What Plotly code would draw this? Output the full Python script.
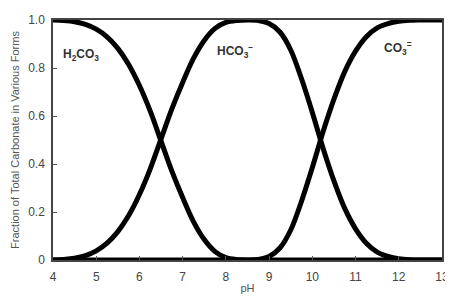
import plotly.graph_objects as go

ph = [4.0, 4.25, 4.5, 4.75, 5.0, 5.25, 5.5, 5.75, 6.0, 6.25, 6.5, 6.75, 7.0, 7.25,
      7.5, 7.75, 8.0, 8.25, 8.5, 8.75, 9.0, 9.25, 9.5, 9.75, 10.0, 10.25, 10.5,
      10.75, 11.0, 11.25, 11.5, 11.75, 12.0, 12.25, 12.5, 12.75, 13.0]

h2co3 = [1.0, 0.998, 0.993, 0.982, 0.962, 0.93, 0.882, 0.815, 0.727, 0.62, 0.495,
         0.37, 0.26, 0.16, 0.085, 0.035, 0.01, 0.002, 0.0, 0.0, 0.0, 0.0, 0.0,
         0.0, 0.0, 0.0, 0.0, 0.0, 0.0, 0.0, 0.0, 0.0, 0.0, 0.0, 0.0, 0.0, 0.0]

hco3 = [0.0, 0.002, 0.007, 0.018, 0.038, 0.07, 0.118, 0.185, 0.273, 0.38, 0.505,
        0.63, 0.74, 0.84, 0.915, 0.965, 0.99, 0.998, 1.0, 0.998, 0.985, 0.95,
        0.875, 0.755, 0.615, 0.465, 0.33, 0.215, 0.13, 0.07, 0.033, 0.015, 0.005,
        0.001, 0.0, 0.0, 0.0]

co3 = [0.0, 0.0, 0.0, 0.0, 0.0, 0.0, 0.0, 0.0, 0.0, 0.0, 0.0, 0.0, 0.0, 0.0,
       0.0, 0.0, 0.0, 0.0, 0.0, 0.002, 0.015, 0.05, 0.125, 0.245, 0.385, 0.535,
       0.67, 0.785, 0.87, 0.93, 0.967, 0.985, 0.995, 0.999, 1.0, 1.0, 1.0]

x_ticks = [4, 5, 6, 7, 8, 9, 10, 11, 12, 13]
y_ticks = [0, 0.2, 0.4, 0.6, 0.8, 1.0]
y_tick_labels = ["0", "0.2", "0.4", "0.6", "0.8", "1.0"]

labels = ["<b>H<sub>2</sub>CO<sub>3</sub></b>", "<b>HCO<sub>3</sub><sup>\u2212</sup></b>",
          "<b>CO<sub>3</sub><sup>=</sup></b>"]
label_x = [4.64, 8.22, 11.98]
label_y = [0.855, 0.872, 0.882]

FONT = "Liberation Sans, Arial, sans-serif"

fig = go.Figure()
for series in (h2co3, hco3, co3):
    fig.add_trace(go.Scatter(x=ph, y=series, mode="lines",
                             line=dict(color="black", width=5, shape="spline", smoothing=0.9),
                             showlegend=False, hoverinfo="skip"))

for t, xx, yy in zip(labels, label_x, label_y):
    fig.add_annotation(x=xx, y=yy, text=t, showarrow=False,
                       font=dict(family=FONT, size=12, color="#333333"))

axis_common = dict(showline=True, linecolor="#444444", linewidth=1.5, mirror=True,
                   ticks="inside", ticklen=4, tickcolor="#555555", tickwidth=1,
                   showgrid=False, zeroline=False, ticklabeloverflow="allow",
                   tickfont=dict(family=FONT, size=12, color="#444444"))

# The page body has an 8px default margin, so the figure is sized/margined to
# place the plot area at the reference position inside the 453x297 window.
fig.update_layout(
    width=445, height=289,
    margin=dict(l=45, r=4, t=12, b=26),
    paper_bgcolor="white", plot_bgcolor="white",
    xaxis=dict(range=[4, 13], tickvals=x_ticks, ticklabelstandoff=5,
               title=dict(text="pH", standoff=1,
                          font=dict(family=FONT, size=11, color="#555555")),
               **axis_common),
    yaxis=dict(range=[0, 1], tickvals=y_ticks, ticktext=y_tick_labels, ticklabelstandoff=4,
               title=dict(text="Fraction of Total Carbonate in Various Forms", standoff=6,
                          font=dict(family=FONT, size=11, color="#555555")),
               **axis_common),
)

fig.write_html("out.html")
